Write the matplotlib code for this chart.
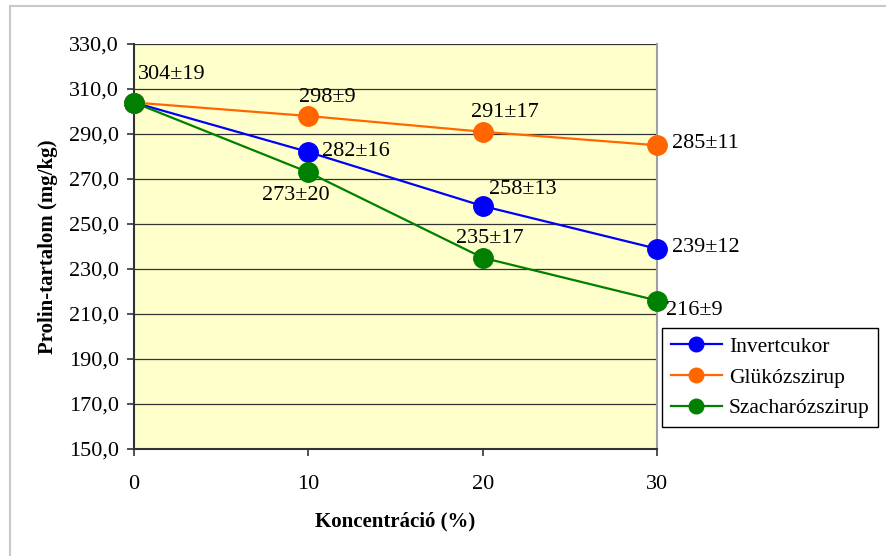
import matplotlib.pyplot as plt
from matplotlib.lines import Line2D

plt.rcParams['font.family'] = ['Liberation Serif', 'DejaVu Serif']

# concentration (%) and proline content (mg/kg)
konc = [0, 10, 20, 30]
invertcukor = [304, 282, 258, 239]
glukozszirup = [304, 298, 291, 285]
szacharozszirup = [304, 273, 235, 216]

# value labels (mean ± sd)
inv_labels = ['', '282±16', '258±13', '239±12']
glu_labels = ['', '298±9', '291±17', '285±11']
sza_labels = ['304±19', '273±20', '235±17', '216±9']

# label offsets in points
inv_off = [(0, 0), (34, 0), (29, 12), (35, 1)]
glu_off = [(0, 0), (14, 13), (16, 14), (35, 1)]
sza_off = [(27, 20), (-9, -17), (5, 14), (27, -7)]

fig = plt.figure(figsize=(8.87, 5.56), dpi=100)
ax = fig.add_axes([134 / 887, 1 - 449 / 556, 523 / 887, 405 / 556])
ax.set_facecolor('#FFFFCC')

# thin gray frame lines of the chart area
fig.add_artist(Line2D([10 / 887, 1], [1 - 6 / 556] * 2, color='#C8C8C8', lw=1.5))
fig.add_artist(Line2D([10 / 887] * 2, [0, 1 - 6 / 556], color='#C8C8C8', lw=1.5))

series = [
    (invertcukor, '#0000FF', 'Invertcukor', inv_labels, inv_off),
    (glukozszirup, '#FF6600', 'Glükózszirup', glu_labels, glu_off),
    (szacharozszirup, '#008000', 'Szacharózszirup', sza_labels, sza_off),
]
for vals, col, name, labs, offs in series:
    ax.plot(konc, vals, color=col, lw=1.6, marker='o', markersize=14,
            label=name, clip_on=False, zorder=3)
    for x, y, lab, off in zip(konc, vals, labs, offs):
        if lab:
            ax.annotate(lab, (x, y), xytext=off, textcoords='offset points',
                        ha='center', va='center', fontsize=16, zorder=4,
                        annotation_clip=False)

ax.set_xlim(0, 30)
ax.set_ylim(150, 330)
ax.set_xticks(konc)
ax.set_yticks(range(150, 331, 20))
ax.set_yticklabels(['%d,0' % v for v in range(150, 331, 20)])
ax.grid(axis='y', color='#333333', lw=0.9)
ax.set_axisbelow(True)
ax.tick_params(labelsize=16, direction='out', length=5, width=1.2, color='#333333', pad=6)
ax.tick_params(axis='x', pad=14)

for s in ['left', 'bottom']:
    ax.spines[s].set_color('#333333')
    ax.spines[s].set_linewidth(1.5)
for s in ['right', 'top']:
    ax.spines[s].set_color('#A0A0A0')
    ax.spines[s].set_linewidth(1.5)
ax.spines['top'].set_visible(False)

ax.set_xlabel('Koncentráció (%)', fontsize=15, fontweight='bold', labelpad=12)
ax.set_ylabel('Prolin-tartalom (mg/kg)', fontsize=15, fontweight='bold', labelpad=8)

leg = ax.legend(loc='upper left', bbox_to_anchor=(662 / 887, 1 - 328 / 556),
                bbox_transform=fig.transFigure, fontsize=15.5, frameon=True,
                fancybox=False, edgecolor='black', framealpha=1,
                borderaxespad=0, handlelength=2.4, markerscale=0.75,
                borderpad=0.4, labelspacing=0.5, handletextpad=0.3)
leg.get_frame().set_linewidth(1.0)

fig.savefig('out.png', dpi=100)
